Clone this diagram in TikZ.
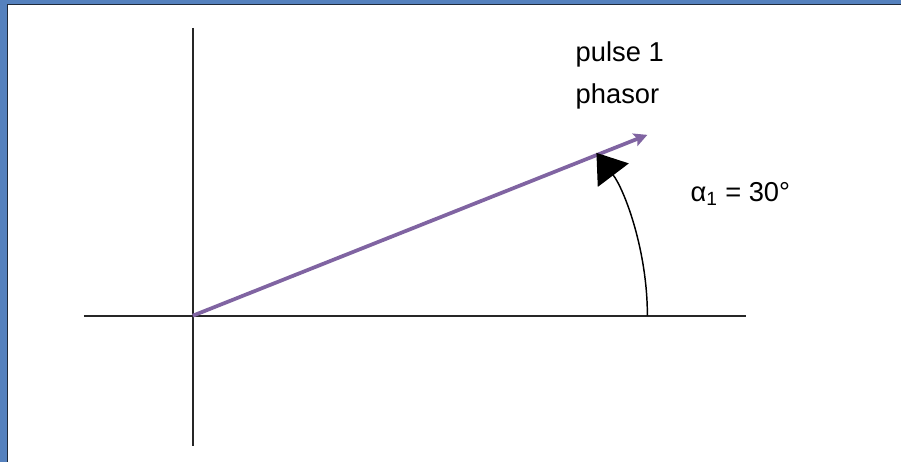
\documentclass[tikz,border=0pt]{standalone}
\usepackage{fontspec}
\setmainfont{Liberation Sans}
\usepackage{tikz}
\usetikzlibrary{arrows.meta,positioning}
\definecolor{frameblue}{HTML}{5581BE}
\definecolor{framedark}{HTML}{1F2A3A}
\definecolor{phasorpurple}{HTML}{8064A2}

\begin{document}
\begin{tikzpicture}[x=0.75pt, y=-0.75pt,
  every node/.style={font=\fontsize{20.5}{31.5}\selectfont, inner sep=0pt},
  axisline/.style={draw=black!85, line width=1.5pt},
  phasorline/.style={draw=phasorpurple, line width=2.8pt, -{Stealth[length=10pt, width=10pt, inset=2pt]}},
  anglearrow/.style={draw=black, line width=1.1pt, -{Triangle[length=21pt, width=29pt]}}]
% frame
\fill[frameblue] (0,0) rectangle (902,462);
\fill[white] (7,4) rectangle (902,462);
\draw[framedark, line width=1.3pt] (7.5,462) -- (7.5,4.5) -- (902,4.5);
\useasboundingbox (0,0) rectangle (902,462);
% axes
\coordinate (O) at (193,316);
\coordinate (ytop) at (193,28);
\coordinate (ybot) at (193,446);
\coordinate (xleft) at (84,316);
\coordinate (xright) at (747,316);
\draw[axisline] (ytop) -- (ybot);
\draw[axisline] (xleft) -- (xright);
% phasor
\coordinate (tip) at (648,135);
\draw[phasorline] (O) -- (tip);
% angle
\coordinate (arcstart) at (648,316);
\coordinate (arcend) at (597,153);
\draw[anglearrow] (arcstart) .. controls (648,250) and (625,190) .. (arcend);
% labels
\node[anchor=base west, align=left] (plabel) at (576,104) {pulse 1\\phasor};
\node[anchor=base west] (alabel) at (691,202) {α\textsubscript{1} = 30°};
\end{tikzpicture}
\end{document}
